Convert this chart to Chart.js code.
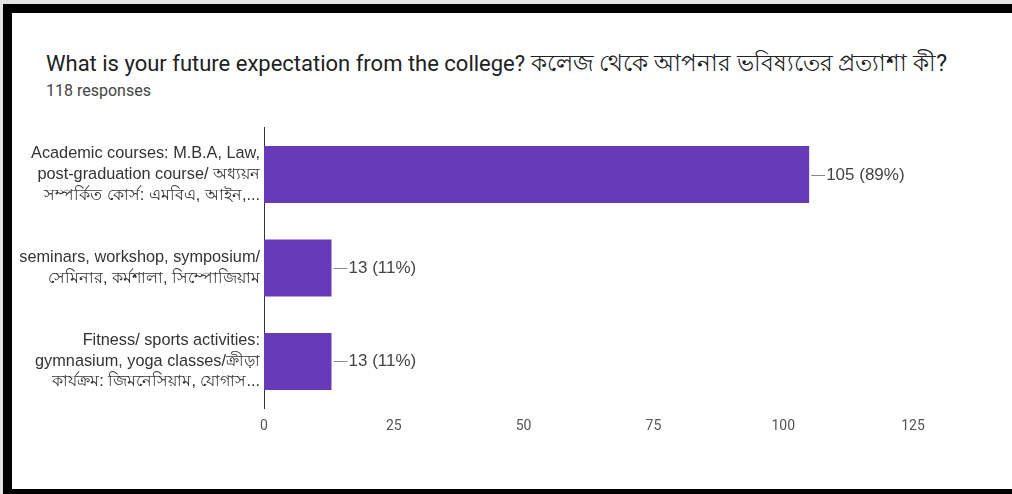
<!DOCTYPE html>
<html>
<head>
<meta charset="utf-8">
<script src="https://cdn.jsdelivr.net/npm/chart.js@4/dist/chart.umd.min.js"></script>
<style>
  html, body { margin:0; padding:0; background:#fff; overflow:hidden; }
  #frame { position:absolute; left:0; top:0; width:1012px; height:494px; background:#fff; overflow:hidden; }
  #edgeTop { position:absolute; left:0; top:0; width:1012px; height:4px; background:#e4e4e4; }
  #edgeLeft { position:absolute; left:0; top:0; width:3px; height:494px; background:#e4e4e4; }
  #card { position:absolute; left:3px; top:4px; width:1020px; height:476px; background:#fff;
          border-left:9px solid #000; border-top:9px solid #000; border-bottom:5px solid #000; }
  #title { position:absolute; left:34px; top:32px; font-family:Roboto, "Noto Sans", sans-serif; font-size:22px; color:#202124; white-space:nowrap; }
  #title span { font-size:23px; }
  #sub { position:absolute; left:34px; top:68px; font-family:Roboto, "Noto Sans", sans-serif; font-size:16px; color:#444; }
  #wrap { position:absolute; left:0; top:80px; width:1000px; height:352px; }
</style>
</head>
<body>
<div id="frame"><div id="edgeTop"></div><div id="edgeLeft"></div><div id="card">
  <div id="title">What is your future expectation from the college? <span>কলেজ থেকে আপনার ভবিষ্যতের প্রত্যাশা কী?</span></div>
  <div id="sub">118 responses</div>
  <div id="wrap"><canvas id="chart"></canvas></div>
</div></div>
<script>
// ------------------------
// DATA
// ------------------------
const categories = [
  ["Academic courses: M.B.A, Law,", "post-graduation course/ অধ্যয়ন", "সম্পর্কিত কোর্স: এমবিএ, আইন,..."],
  ["seminars, workshop, symposium/", "সেমিনার, কর্মশালা, সিম্পোজিয়াম"],
  ["Fitness/ sports activities:", "gymnasium, yoga classes/ক্রীড়া", "কার্যক্রম: জিমনেসিয়াম, যোগাস..."]
];
const counts = [105, 13, 13];
const percents = [89, 11, 11];
const xTicks = [0, 25, 50, 75, 100, 125];

const labelFont = '"Liberation Sans", Arial, "Noto Sans", sans-serif';

// value labels with a small leader line
const valueLabels = {
  id: 'valueLabels',
  afterDatasetsDraw(chart) {
    const ctx = chart.ctx;
    const meta = chart.getDatasetMeta(0);
    ctx.save();
    ctx.font = '17px ' + labelFont;
    ctx.fillStyle = '#444';
    ctx.strokeStyle = '#888';
    ctx.lineWidth = 1;
    ctx.textBaseline = 'middle';
    meta.data.forEach((bar, i) => {
      const x = bar.x, y = Math.round(bar.y) + 0.5;
      ctx.beginPath();
      ctx.moveTo(x + 2, y);
      ctx.lineTo(x + 16, y);
      ctx.stroke();
      ctx.fillText(`${counts[i]} (${percents[i]}%)`, x + 17, y);
    });
    ctx.restore();
  }
};

new Chart(document.getElementById('chart'), {
  type: 'bar',
  data: {
    labels: categories,
    datasets: [{
      data: counts,
      backgroundColor: '#673ab7',
      barPercentage: 0.61,
      categoryPercentage: 1
    }]
  },
  options: {
    indexAxis: 'y',
    responsive: true,
    maintainAspectRatio: false,
    animation: false,
    layout: { padding: { left: 0, right: 99, top: 1, bottom: 0 } },
    plugins: { legend: { display: false }, tooltip: { enabled: false } },
    scales: {
      x: {
        min: 0, max: 125,
        afterBuildTicks: s => { s.ticks = xTicks.map(v => ({ value: v })); },
        grid: { display: false, drawTicks: false },
        border: { display: false },
        ticks: { color: '#555', font: { family: 'Roboto, "Noto Sans", sans-serif', size: 14 }, padding: 10 }
      },
      y: {
        grid: { display: false, drawTicks: false },
        border: { display: true, color: '#333', width: 1 },
        afterFit: s => { s.width = 252; },
        ticks: { color: '#333', font: { family: labelFont, size: 16.3, lineHeight: 1.26 }, padding: 4 }
      }
    }
  },
  plugins: [valueLabels]
});
</script>
</body>
</html>
